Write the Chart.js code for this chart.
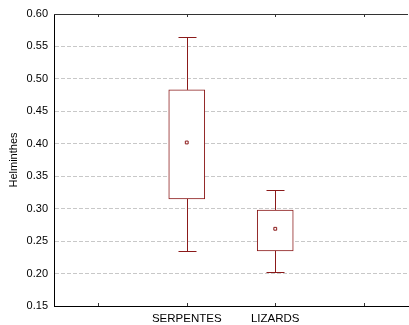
<!DOCTYPE html>
<html>
<head>
<meta charset="utf-8">
<script src="https://cdn.jsdelivr.net/npm/chart.js@4.4.1/dist/chart.umd.min.js"></script>
<style>
  body { margin: 0; background: #fff; overflow: hidden; }
  #wrap { width: 413px; height: 325px; }
</style>
</head>
<body>
<div id="wrap"><canvas id="chart-helminthes"></canvas></div>
<script>
// empty slots at both ends keep the outer tick marks like the original frame
const categories = ['', 'SERPENTES', 'LIZARDS', ''];
const whiskerLow = [null, 0.235, 0.203, null];
const boxLow = [null, 0.315, 0.235, null];
const centerValues = [null, 0.402, 0.269, null];
const boxHigh = [null, 0.483, 0.298, null];
const whiskerHigh = [null, 0.565, 0.329, null];
const yMin = 0.15, yMax = 0.60, yStep = 0.05;

const boxColor = '#8b1a1a';

const boxes = boxLow.map(function(lo, i) {
  return lo === null ? null : [lo, boxHigh[i]];
});

// whiskers, caps and the frame (top line + inner ticks)
const extrasPlugin = {
  id: 'extras',
  afterDatasetsDraw: function(chart) {
    const ctx = chart.ctx;
    const x = chart.scales.x;
    const y = chart.scales.y;
    const area = chart.chartArea;
    ctx.save();
    ctx.lineWidth = 1;
    ctx.strokeStyle = boxColor;
    categories.forEach(function(c, i) {
      if (whiskerLow[i] === null) return;
      const px = Math.round(x.getPixelForValue(i)) + 0.5;
      const yLo = Math.round(y.getPixelForValue(whiskerLow[i])) + 0.5;
      const yQ1 = y.getPixelForValue(boxLow[i]);
      const yQ3 = y.getPixelForValue(boxHigh[i]);
      const yHi = Math.round(y.getPixelForValue(whiskerHigh[i])) + 0.5;
      ctx.beginPath();
      ctx.moveTo(px, yQ1); ctx.lineTo(px, yLo);
      ctx.moveTo(px - 9, yLo); ctx.lineTo(px + 9, yLo);
      ctx.moveTo(px, yQ3); ctx.lineTo(px, yHi);
      ctx.moveTo(px - 9, yHi); ctx.lineTo(px + 9, yHi);
      ctx.stroke();
    });
    ctx.strokeStyle = '#333';
    ctx.beginPath();
    const top = Math.round(area.top) + 0.5;
    ctx.moveTo(area.left, top); ctx.lineTo(area.right, top);
    categories.forEach(function(c, i) {
      const px = Math.round(x.getPixelForValue(i)) + 0.5;
      ctx.moveTo(px, area.top); ctx.lineTo(px, area.top + 3);
      ctx.moveTo(px, area.bottom); ctx.lineTo(px, area.bottom - 3);
    });
    ctx.stroke();
    ctx.restore();
  }
};

new Chart(document.getElementById('chart-helminthes'), {
  data: {
    labels: categories,
    datasets: [
      {
        type: 'bar',
        data: boxes,
        backgroundColor: '#fff',
        borderColor: boxColor,
        borderWidth: 1,
        borderSkipped: false,
        barThickness: 36,
        order: 2
      },
      {
        type: 'line',
        data: centerValues,
        showLine: false,
        pointStyle: 'rect',
        pointRadius: 2,
        pointBorderWidth: 1,
        pointBackgroundColor: '#fff',
        pointBorderColor: boxColor,
        order: 1
      }
    ]
  },
  options: {
    responsive: true,
    maintainAspectRatio: false,
    animation: false,
    layout: { padding: { top: 14, right: 0, left: 0, bottom: 0 } },
    plugins: { legend: { display: false }, tooltip: { enabled: false } },
    scales: {
      x: {
        type: 'category',
        offset: true,
        grid: { display: false, drawTicks: false },
        border: { display: true, color: '#000', width: 1 },
        ticks: {
          color: '#000',
          padding: 6,
          font: { family: 'Liberation Sans, Arial', size: 11.5 },
          maxRotation: 0,
          autoSkip: false
        },
        afterFit: function(scale) { scale.height = 19; }
      },
      y: {
        min: yMin,
        max: yMax,
        grid: {
          color: '#c8c8c8',
          drawTicks: false
        },
        border: { display: true, color: '#000', width: 1, dash: [4, 2] },
        ticks: {
          stepSize: yStep,
          color: '#000',
          padding: 6,
          font: { family: 'Liberation Sans, Arial', size: 11 },
          callback: function(v) { return v.toFixed(2); }
        },
        title: {
          display: true,
          text: 'Helminthes',
          color: '#000',
          padding: { top: 7, bottom: 0 },
          font: { family: 'Liberation Sans, Arial', size: 11 }
        },
        afterFit: function(scale) { scale.width = 54; }
      }
    }
  },
  plugins: [extrasPlugin]
});
</script>
</body>
</html>
